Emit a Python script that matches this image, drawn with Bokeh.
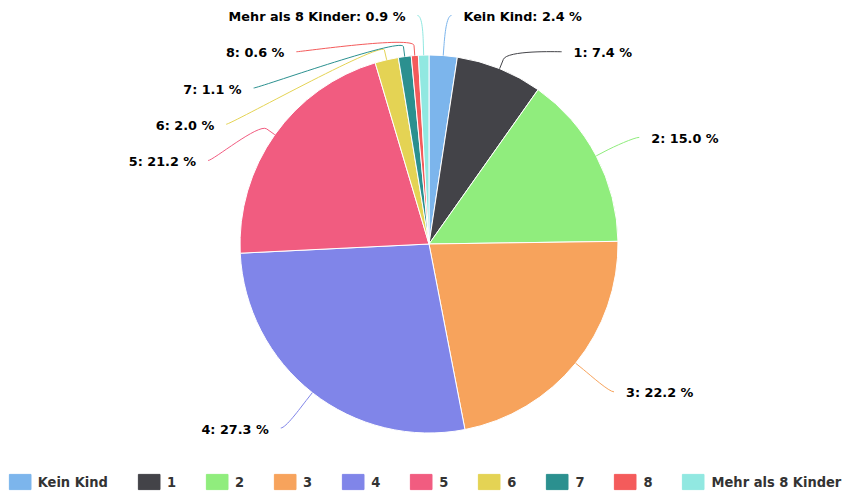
import math
from bokeh.plotting import figure
from bokeh.models import Range1d, ColumnDataSource, Legend, LegendItem
from bokeh.core.properties import value
from bokeh.embed import file_html
from bokeh.resources import INLINE

# ---- data ----
categories = ["Kein Kind", "1", "2", "3", "4", "5", "6", "7", "8", "Mehr als 8 Kinder"]
shares = [2.4, 7.4, 15.0, 22.2, 27.3, 21.2, 2.0, 1.1, 0.6, 0.9]
colors = ["#7cb5ec", "#434348", "#90ed7d", "#f7a35c", "#8085e9",
          "#f15c80", "#e4d354", "#2b908f", "#f45b5b", "#91e8e1"]

# ---- layout (screen-like pixel coordinates, y measured downward) ----
W, H = 847, 495
CX, CY, R = 428.5, 243.5, 189.0
LCY = CY + 2.5          # label circle centre
RL = 232.0              # label circle radius
PAD = 5.0
TOP = 16.0
STEP = 36.25
KOFF = 10.0
GAP = 12.0


def fy(sy):
    return H - sy


total = sum(shares)
fr = [s / total for s in shares]
cum = [0.0]
for f in fr:
    cum.append(cum[-1] + f)

start_angles = [math.pi / 2 - 2 * math.pi * cum[i] for i in range(len(fr))]
end_angles = [math.pi / 2 - 2 * math.pi * cum[i + 1] for i in range(len(fr))]

p = figure(width=W, height=H, output_backend="svg", toolbar_location=None,
           x_range=Range1d(0, W), y_range=Range1d(0, H),
           x_axis_location=None, y_axis_location=None,
           min_border=0, min_border_left=0, min_border_right=0,
           min_border_top=0, min_border_bottom=0)
p.grid.visible = False
p.outline_line_color = None
p.background_fill_color = "white"
p.border_fill_color = "white"

p.wedge(x=CX, y=fy(CY), radius=R,
        start_angle=start_angles, end_angle=end_angles, direction="clock",
        fill_color=colors, line_color="white", line_width=1)

# ---- data-label layout ----
mids = [math.pi * (cum[i] + cum[i + 1]) for i in range(len(fr))]
nat_y = [LCY - RL * math.cos(m) for m in mids]
side = ["right" if math.sin(m) >= 0 else "left" for m in mids]
lab_y = [0.0] * len(fr)
for sd in ("right", "left"):
    idx = sorted([i for i in range(len(fr)) if side[i] == sd], key=lambda i: nat_y[i])
    prev = -1e9
    for i in idx:
        y = max(nat_y[i], TOP, prev + STEP)
        lab_y[i] = y
        prev = y

lab_x = []
for i in range(len(fr)):
    use_y = nat_y[i] if lab_y[i] < TOP + 2 else lab_y[i]
    dx = math.sqrt(max(RL ** 2 - (use_y - LCY) ** 2, 0.0))
    sgn = 1 if side[i] == "right" else -1
    lab_x.append(CX + sgn * (dx + PAD))

bx0, by0, bx1, by1, bcx0, bcy0, bcx1, bcy1, bcol = [], [], [], [], [], [], [], [], []
sx0, sy0, sx1, sy1 = [], [], [], []
for i in range(len(fr)):
    m = mids[i]
    ux, uy = math.sin(m), -math.cos(m)
    tx, ty = CX + R * ux, CY + R * uy
    brx, bry = CX + (R + KOFF) * ux, CY + (R + KOFF) * uy
    c2x, c2y = CX + (R + 2 * KOFF) * ux, CY + (R + 2 * KOFF) * uy
    sgn = 1 if side[i] == "right" else -1
    lx, ly = lab_x[i], lab_y[i] - 1
    bx0.append(lx); by0.append(fy(ly))
    bcx0.append(lx - sgn * 5); bcy0.append(fy(ly))
    bcx1.append(c2x); bcy1.append(fy(c2y))
    bx1.append(brx); by1.append(fy(bry))
    bcol.append(colors[i])
    sx0.append(brx); sy0.append(fy(bry)); sx1.append(tx); sy1.append(fy(ty))

p.bezier(x0=bx0, y0=by0, x1=bx1, y1=by1, cx0=bcx0, cy0=bcy0, cx1=bcx1, cy1=bcy1,
         line_color=bcol, line_width=1)
p.segment(x0=sx0, y0=sy0, x1=sx1, y1=sy1, line_color=bcol, line_width=1)

labels = [f"{c}: {s:.1f} %" for c, s in zip(categories, shares)]
for sd, align in (("right", "left"), ("left", "right")):
    ids = [i for i in range(len(fr)) if side[i] == sd]
    sgn = 1 if sd == "right" else -1
    src = ColumnDataSource(dict(
        x=[lab_x[i] + sgn * GAP for i in ids],
        y=[fy(lab_y[i]) for i in ids],
        t=[labels[i] for i in ids]))
    p.text(x="x", y="y", text="t", source=src, text_align=align, text_baseline="middle",
           text_font=value("DejaVu Sans"), text_font_style="bold",
           text_font_size="12.8px", text_color="#000000")

# ---- legend (swatch renderers kept outside the visible range) ----
items = []
for cat, col in zip(categories, colors):
    r = p.quad(left=[-60], right=[-50], top=[-50], bottom=[-60],
               fill_color=col, line_color=col)
    items.append(LegendItem(label=cat, renderers=[r]))
legend = Legend(items=items, orientation="horizontal", location="bottom_center",
                glyph_width=27, glyph_height=19, label_standoff=5, spacing=27,
                padding=0, margin=4, border_line_color=None, background_fill_alpha=0,
                label_text_font="DejaVu Sans Condensed", label_text_font_style="bold",
                label_text_font_size="14.5px", label_text_color="#333333",
                label_height=19, label_width=0, label_text_baseline="middle")
p.add_layout(legend)

open("out.html", "w").write(file_html(p, INLINE))
